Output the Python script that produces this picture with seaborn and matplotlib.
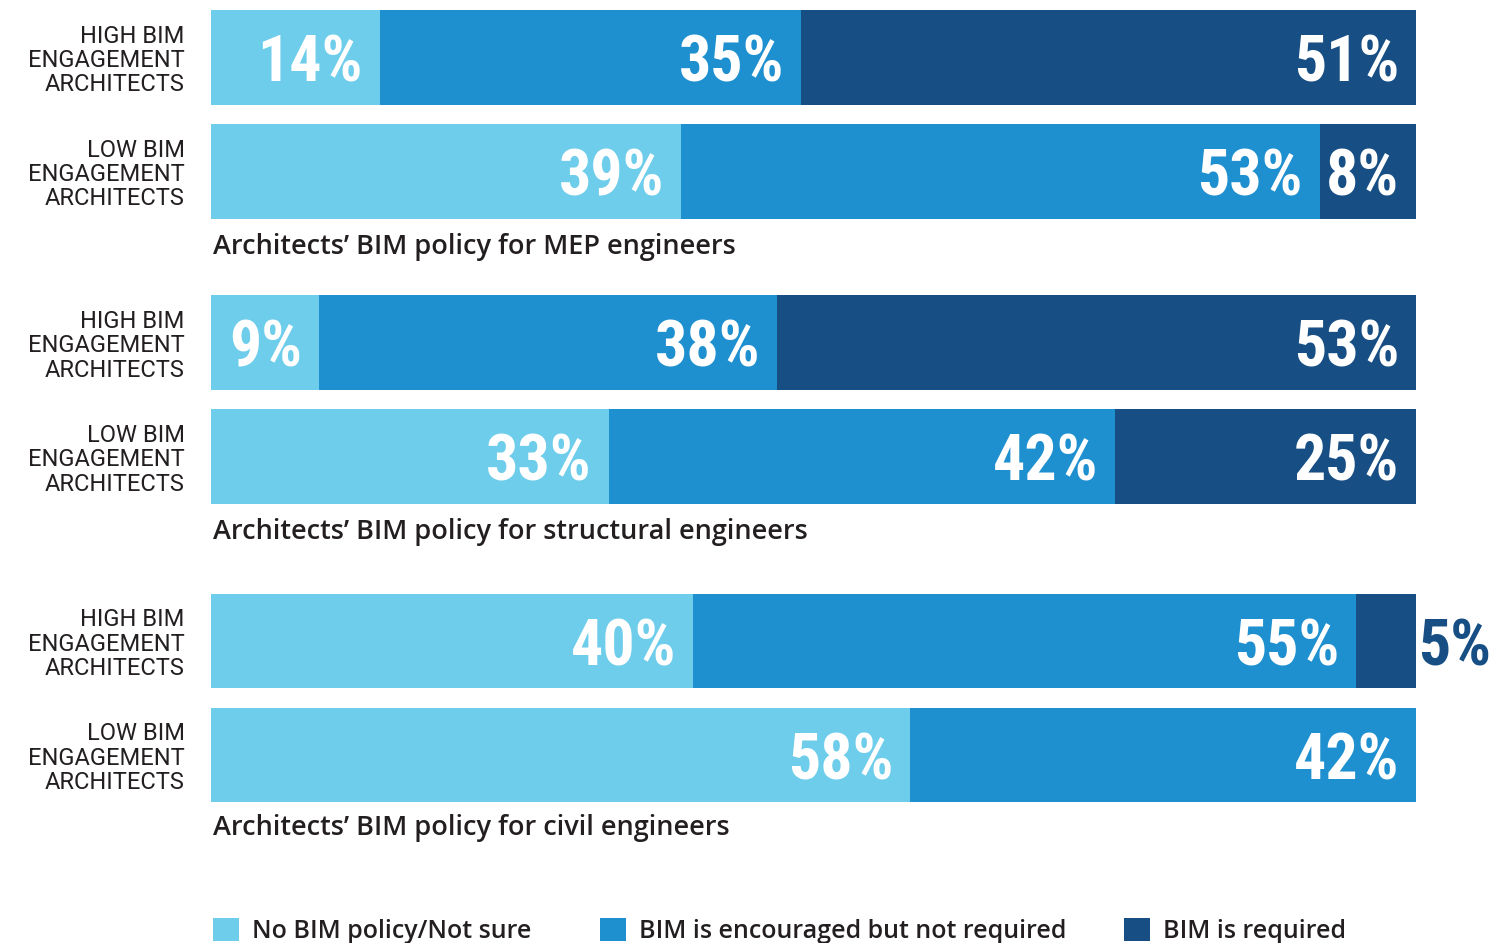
import pandas as pd
import seaborn as sns
import matplotlib.pyplot as plt
from matplotlib import font_manager as fm
from matplotlib.patches import Patch

# data
rows = ["HIGH BIM\nENGAGEMENT\nARCHITECTS", "LOW BIM\nENGAGEMENT\nARCHITECTS"]
titles = ["Architects’ BIM policy for MEP engineers",
          "Architects’ BIM policy for structural engineers",
          "Architects’ BIM policy for civil engineers"]
# order: MEP high, MEP low, structural high, structural low, civil high, civil low
no_policy = [14, 39, 9, 33, 40, 58]
encouraged = [35, 53, 38, 42, 55, 42]
required = [51, 8, 53, 25, 5, 0]
legend_labels = ["No BIM policy/Not sure", "BIM is encouraged but not required", "BIM is required"]

light, mid, dark = "#6ECDEB", "#1F90CF", "#174F84"
text_col = "#231F20"

sns.set_theme(style="white")
plt.rcParams['font.family'] = ['Roboto', 'DejaVu Sans']
title_font = ['Open Sans', 'DejaVu Sans']


def pick_num_font():
    # the percentages use a condensed bold face; take the first one installed
    for fam, stretch, size in [('Roboto Condensed', 'normal', 46),
                               ('Liberation Sans Narrow', 'normal', 46),
                               ('DejaVu Sans', 'condensed', 42)]:
        try:
            p = fm.findfont(fm.FontProperties(family=fam, weight='bold', stretch=stretch),
                            fallback_to_default=False)
        except ValueError:
            continue
        if fam == 'DejaVu Sans' and 'Condensed' not in p:
            continue
        return fam, stretch, size
    return 'Roboto', 'normal', 40


num_fam, num_stretch, num_size = pick_num_font()

W, H = 1510, 943
fig = plt.figure(figsize=(W / 100, H / 100), dpi=100)

ax_tops = [0.25, 285.75, 584]
title_y = [247, 532, 828]
ax_h = 228
x0, x1 = 211, 1416

for g in range(3):
    top = ax_tops[g]
    ax = fig.add_axes([x0 / W, 1 - (top + ax_h) / H, (x1 - x0) / W, ax_h / H])
    sl = slice(2 * g, 2 * g + 2)
    df = pd.DataFrame({'row': rows, 'no': no_policy[sl], 'enc': encouraged[sl], 'req': required[sl]})
    df['c2'] = df['no'] + df['enc']
    df['c3'] = df['c2'] + df['req']

    # stacked bars: draw totals first, then overlay the shorter cumulative ones
    for col, color in [('c3', dark), ('c2', mid), ('no', light)]:
        sns.barplot(data=df, x=col, y='row', color=color, saturation=1,
                    width=0.833, orient='h', linewidth=0, ax=ax)

    for i, r in df.iterrows():
        ends = [r['no'], r['c2'], r['c3']]
        vals = [r['no'], r['enc'], r['req']]
        for v, e in zip(vals, ends):
            if v <= 0:
                continue
            if v <= 5:
                ax.text(e + 0.2, i, f"{v}%", ha='left', va='center_baseline', color=dark,
                        fontsize=num_size, fontweight='bold', family=num_fam,
                        fontstretch=num_stretch)
            else:
                ax.text(e - 1.4, i, f"{v}%", ha='right', va='center_baseline', color='white',
                        fontsize=num_size, fontweight='bold', family=num_fam,
                        fontstretch=num_stretch)

    ax.set_xlim(0, 100)
    ax.set_xlabel('')
    ax.set_ylabel('')
    ax.set_xticks([])
    ax.tick_params(axis='y', length=0, pad=19, labelsize=17, labelcolor=text_col)
    for lab in ax.get_yticklabels():
        lab.set_linespacing(1.08)
    sns.despine(ax=ax, left=True, bottom=True)

    fig.text(213 / W, 1 - title_y[g] / H, titles[g], ha='left', va='center',
             fontsize=19.5, fontweight='semibold', color=text_col, family=title_font)

# legend entries placed one by one to match the reference spacing
legend_x = [213, 600, 1124]
for lab, c, lx in zip(legend_labels, (light, mid, dark), legend_x):
    fig.legend([Patch(facecolor=c, edgecolor='none')], [lab], loc='center left',
               bbox_to_anchor=(lx / W, 1 - 931 / H), frameon=False, labelcolor=text_col,
               prop={'family': title_font, 'size': 18, 'weight': 'semibold'},
               handlelength=1.05, handleheight=1.05, handletextpad=0.5,
               borderpad=0, borderaxespad=0)

fig.savefig('out.png', dpi=100)
